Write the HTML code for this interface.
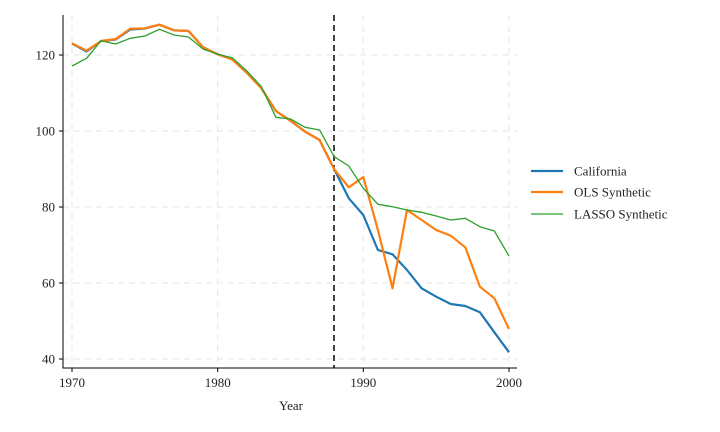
<!DOCTYPE html>
<html><head><meta charset="utf-8"><style>
html,body{margin:0;padding:0;background:#fff;}
svg{display:block;font-family:"Liberation Serif",serif;}
</style></head><body>
<svg width="720" height="432" viewBox="0 0 720 432" xmlns="http://www.w3.org/2000/svg">
<g stroke="#e6e6e6" stroke-width="1" stroke-dasharray="6,5" fill="none">
<line x1="72" y1="15" x2="72" y2="368"/>
<line x1="217.7" y1="15" x2="217.7" y2="368"/>
<line x1="363.3" y1="15" x2="363.3" y2="368"/>
<line x1="509" y1="15" x2="509" y2="368"/>
<line x1="63" y1="55" x2="517" y2="55"/>
<line x1="63" y1="131" x2="517" y2="131"/>
<line x1="63" y1="207" x2="517" y2="207"/>
<line x1="63" y1="283" x2="517" y2="283"/>
<line x1="63" y1="359" x2="517" y2="359"/>
</g>
<line x1="334" y1="15" x2="334" y2="368" stroke="#000" stroke-width="1.5" stroke-dasharray="6,4"/>
<g fill="none" stroke-linejoin="round">
<polyline stroke="#1f77b4" stroke-width="2.2" points="72,43.5 86.6,51.5 101.1,41 115.7,39.5 130.3,29.5 144.8,28.5 159.4,24.7 174,30.3 188.5,31 203.1,47.3 217.7,54.3 232.2,59.3 246.8,72.7 261.4,88.3 275.9,111 290.5,120.7 305.1,131.7 319.6,140 334.2,169.3 348.8,198.3 363.3,215 377.9,250 392.5,254.3 407,270 421.6,288.3 436.2,296.7 450.7,304 465.3,306 479.9,312.3 494.4,332.3 509,352.3"/>
<polyline stroke="#ff7f0e" stroke-width="2.2" points="72,43.3 86.6,50.7 101.1,41 115.7,39 130.3,28.7 144.8,28.3 159.4,24.7 174,30.3 188.5,31 203.1,47.3 217.7,54.3 232.2,59.3 246.8,72.7 261.4,88.3 275.9,111 290.5,120.7 305.1,131.7 319.6,140 334.2,169.3 348.8,187.3 363.3,177 377.9,230 392.5,288.3 407,210 421.6,220 436.2,230 450.7,235.7 465.3,247.3 479.9,286.7 494.4,298.3 509,329"/>
<polyline stroke="#2ca02c" stroke-width="1.3" points="72,66 86.6,58.3 101.1,40.7 115.7,44 130.3,38.3 144.8,36 159.4,29.3 174,35 188.5,37 203.1,49 217.7,54.3 232.2,57.7 246.8,71 261.4,86.7 275.9,117.3 290.5,119 305.1,127.3 319.6,130 334.2,156.7 348.8,166 363.3,188.3 377.9,204.3 392.5,206.7 407,210 421.6,212.3 436.2,216 450.7,220 465.3,218.3 479.9,226.7 494.4,231 509,256"/>
</g>
<g stroke="#000" stroke-width="1">
<line x1="63" y1="15" x2="63" y2="368.5"/>
<line x1="62.5" y1="368" x2="517" y2="368"/>
<line x1="72" y1="368" x2="72" y2="372"/>
<line x1="217.7" y1="368" x2="217.7" y2="372"/>
<line x1="363.3" y1="368" x2="363.3" y2="372"/>
<line x1="509" y1="368" x2="509" y2="372"/>
<line x1="59" y1="55" x2="63" y2="55"/>
<line x1="59" y1="131" x2="63" y2="131"/>
<line x1="59" y1="207" x2="63" y2="207"/>
<line x1="59" y1="283" x2="63" y2="283"/>
<line x1="59" y1="359" x2="63" y2="359"/>
</g>
<g font-size="13" fill="#222" text-anchor="middle">
<text x="72" y="387">1970</text>
<text x="217.7" y="387">1980</text>
<text x="363.3" y="387">1990</text>
<text x="509" y="387">2000</text>
<text x="291" y="410">Year</text>
</g>
<g font-size="13" fill="#222" text-anchor="end">
<text x="55" y="59.5">120</text>
<text x="55" y="135.5">100</text>
<text x="55" y="211.5">80</text>
<text x="55" y="287.5">60</text>
<text x="55" y="363.5">40</text>
</g>
<line x1="531" y1="171" x2="563" y2="171" stroke="#1f77b4" stroke-width="2.2"/>
<line x1="531" y1="192" x2="563" y2="192" stroke="#ff7f0e" stroke-width="2.2"/>
<line x1="531" y1="214" x2="563" y2="214" stroke="#2ca02c" stroke-width="1.3"/>
<g font-size="13" fill="#222">
<text x="574" y="175.5">California</text>
<text x="574" y="196.5">OLS Synthetic</text>
<text x="574" y="218.5">LASSO Synthetic</text>
</g>
</svg>
</body></html>
